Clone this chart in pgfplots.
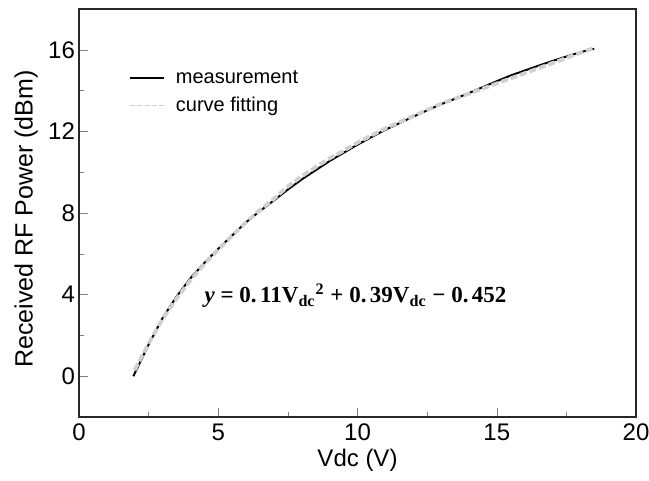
\documentclass[border=0pt]{standalone}
\usepackage{pgfplots}
\pgfplotsset{compat=1.18}
\usepackage{fontspec}
\setmainfont{Liberation Sans}
\newfontfamily\eqfont{Liberation Serif}
\definecolor{fitgray}{RGB}{208,208,208}
\definecolor{axgray}{RGB}{40,40,40}
\begin{document}
\begin{tikzpicture}[font=\fontsize{12}{14}\selectfont]
\begin{axis}[
  name=ax,
  scale only axis,
  width=278.5pt, height=204pt,
  xmin=0, xmax=20, ymin=-2, ymax=18,
  xtick={0,5,10,15,20}, ytick={0,4,8,12,16},
  minor xtick={2.5,7.5,12.5,17.5}, minor ytick={-2,2,6,10,14},
  tick align=inside,
  major tick length=4.5pt, minor tick length=2.5pt,
  axis line style={axgray, line width=0.9pt},
  xtick pos=bottom, ytick pos=left,
  /pgf/number format/assume math mode=true,
  yticklabel style={xshift=1.5pt},
  xlabel={Vdc (V)}, ylabel={Received RF Power (dBm)},
  xlabel style={at={(axis description cs:0.5,-0.105)}, anchor=center},
  ylabel style={at={(axis description cs:-0.095,0.485)}, anchor=center, font=\fontsize{12.5}{14}\selectfont},
  legend style={draw=none, fill=none, at={(0.085,0.865)}, anchor=north west,
    font=\fontsize{10}{12}\selectfont, inner sep=1pt, row sep=1.2pt},
  legend cell align=left,
]
\addplot[black, line width=1pt] coordinates {
(1.95,0) (2.2,0.7) (2.5,1.55) (3,2.85) (3.5,3.9) (4,4.8) (4.5,5.55) (5,6.25)
(5.5,6.9) (6,7.55) (6.5,8.1) (7,8.62) (7.5,9.15) (8,9.65) (8.5,10.1) (9,10.55)
(9.5,10.95) (10,11.35) (10.5,11.72) (11,12.08) (11.5,12.4) (12,12.72) (12.5,13.03)
(13,13.33) (13.5,13.6) (14,13.88) (14.5,14.17) (15,14.46) (15.5,14.74) (16,14.98)
(16.5,15.22) (17,15.45) (17.5,15.67) (18,15.88) (18.5,16.05)
};
\addlegendentry{\hspace{3.5pt}measurement}
\addplot[fitgray, line width=1.9pt, dash pattern=on 3.5pt off 1.5pt, forget plot] coordinates {
(2,0.3) (2.5,1.6) (3,2.8) (3.5,3.8) (4,4.7) (4.5,5.5) (5,6.2) (5.5,6.9) (6,7.55)
(6.5,8.15) (7,8.7) (7.5,9.3) (8,9.8) (8.5,10.25) (9,10.68) (9.5,11.05) (10,11.45)
(10.5,11.8) (11,12.15) (11.5,12.45) (12,12.75) (12.5,13.05) (13,13.35) (13.5,13.6)
(14,13.85) (14.5,14.1) (15,14.35) (15.5,14.6) (16,14.85) (16.5,15.1) (17,15.35)
(17.5,15.6) (18,15.85) (18.5,16.1)
};
\addlegendimage{fitgray, line width=0.8pt, dash pattern=on 2.5pt off 1.2pt}
\addlegendentry{\hspace{3.5pt}curve fitting}
\node[font=\eqfont\fontsize{11.5}{13}\selectfont\bfseries] at (axis cs:9.93,3.95)
  {\textit{y} = 0.\hspace{0.15em}11V\textsubscript{dc}\textsuperscript{2} + 0.\hspace{0.15em}39V\textsubscript{dc} − 0.\hspace{0.15em}452};
\end{axis}
\pgfresetboundingbox
\path ([shift={(-39.5pt,-31.5pt)}]ax.south west) rectangle ([shift={(6.5pt,4.5pt)}]ax.north east);
\end{tikzpicture}
\end{document}
